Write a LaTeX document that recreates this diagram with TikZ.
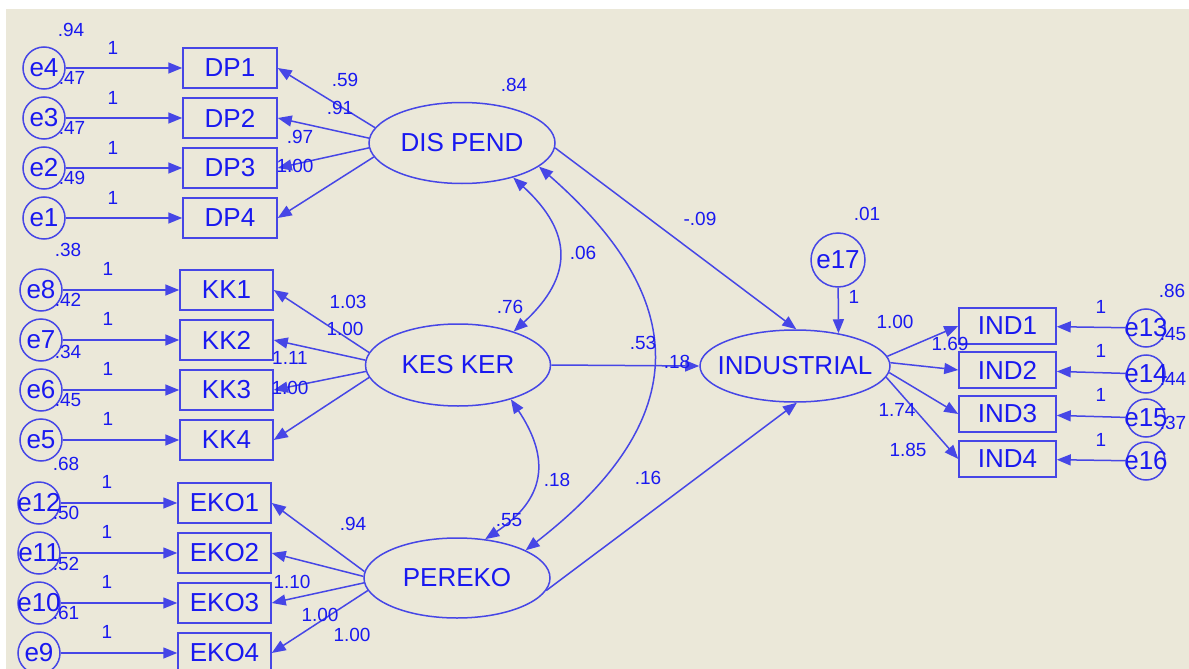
\documentclass[tikz,border=0pt]{standalone}
\usepackage{fontspec}
\setmainfont{Liberation Sans}
\usetikzlibrary{arrows.meta,shapes.geometric}
\definecolor{bg}{RGB}{235,232,217}
\definecolor{ln}{RGB}{70,70,230}
\definecolor{tx}{RGB}{25,25,240}
\begin{document}
\begin{tikzpicture}[x=1pt,y=-1pt,
  every node/.style={text=tx},
  big/.style={font=\fontsize{26}{30}\selectfont},
  obs/.style={big,draw=ln,line width=1.5pt,rectangle,minimum width=93pt,minimum height=40pt,inner sep=0pt},
  lat/.style={big,draw=ln,line width=1.5pt,ellipse,inner sep=0pt},
  err/.style={big,draw=ln,line width=1.5pt,circle,minimum size=42pt,inner sep=0pt},
  errs/.style={err,minimum size=38pt},
  lab/.style={inner sep=0pt,font=\fontsize{19}{22}\selectfont},
  arr/.style={draw=ln,line width=1.5pt,-{Triangle[length=14pt,width=11pt]}},
  cov/.style={draw=ln,line width=1.5pt,{Triangle[length=14pt,width=11pt]}-{Triangle[length=14pt,width=11pt]}}
]
\useasboundingbox (0,0) rectangle (1189,669);
\fill[white] (0,0) rectangle (1189,669);
\fill[bg] (6,9) rectangle (1189,669);

% latent variables
\node[lat,minimum width=186pt,minimum height=81pt] (dp) at (462,143) {\makebox[0pt]{DIS PEND}};
\node[lat,minimum width=185pt,minimum height=82pt] (kk) at (458,365) {\makebox[0pt]{KES KER}};
\node[lat,minimum width=186pt,minimum height=80pt] (pe) at (457,578) {\makebox[0pt]{PEREKO}};
\node[lat,minimum width=190pt,minimum height=72pt] (ind) at (795,366) {\makebox[0pt]{INDUSTRIAL}};

% observed
\node[obs,minimum width=94pt] (DP1) at (230,68) {DP1};
\node[obs,minimum width=94pt] (DP2) at (230,118) {DP2};
\node[obs,minimum width=94pt] (DP3) at (230,168) {DP3};
\node[obs,minimum width=94pt] (DP4) at (230,218) {DP4};
\node[obs] (KK1) at (226.5,290) {KK1};
\node[obs] (KK2) at (226.5,340) {KK2};
\node[obs] (KK3) at (226.5,390) {KK3};
\node[obs] (KK4) at (226.5,440) {KK4};
\node[obs] (EKO1) at (224.5,503) {EKO1};
\node[obs] (EKO2) at (224.5,553) {EKO2};
\node[obs] (EKO3) at (224.5,603) {EKO3};
\node[obs] (EKO4) at (224.5,653) {EKO4};
\node[obs,minimum width=97pt,minimum height=36pt] (IND1) at (1007.5,326) {IND1};
\node[obs,minimum width=97pt,minimum height=36pt] (IND2) at (1007.5,370) {IND2};
\node[obs,minimum width=97pt,minimum height=36pt] (IND3) at (1007.5,414) {IND3};
\node[obs,minimum width=97pt,minimum height=36pt] (IND4) at (1007.5,459) {IND4};

% errors
\node[err] (e4) at (44,68) {\makebox[0pt]{e4}};
\node[err] (e3) at (44,118) {\makebox[0pt]{e3}};
\node[err] (e2) at (44,168) {\makebox[0pt]{e2}};
\node[err] (e1) at (44,218) {\makebox[0pt]{e1}};
\node[err] (e8) at (41,290) {\makebox[0pt]{e8}};
\node[err] (e7) at (41,340) {\makebox[0pt]{e7}};
\node[err] (e6) at (41,390) {\makebox[0pt]{e6}};
\node[err] (e5) at (41,440) {\makebox[0pt]{e5}};
\node[err] (e12) at (39,503) {\makebox[0pt]{e12}};
\node[err] (e11) at (39,553) {\makebox[0pt]{e11}};
\node[err] (e10) at (39,603) {\makebox[0pt]{e10}};
\node[err] (e9) at (39,653) {\makebox[0pt]{e9}};
\node[errs] (e13) at (1146,328) {\makebox[0pt]{e13}};
\node[errs] (e14) at (1146,374) {\makebox[0pt]{e14}};
\node[errs] (e15) at (1146,418) {\makebox[0pt]{e15}};
\node[errs] (e16) at (1146,461) {\makebox[0pt]{e16}};
\node[err,minimum size=54pt] (e17) at (838,260) {\makebox[0pt]{e17}};

% error arrows
\foreach \e/\o in {e4/DP1,e3/DP2,e2/DP3,e1/DP4,e8/KK1,e7/KK2,e6/KK3,e5/KK4,e12/EKO1,e11/EKO2,e10/EKO3,e9/EKO4,e13/IND1,e14/IND2,e15/IND3,e16/IND4}
  \draw[arr] (\e) -- (\o);
\draw[arr] (e17) -- (ind.37);

% loadings
\draw[arr] (dp.170) -- (DP1.east);
\draw[arr] (dp.177) -- (DP2.east);
\draw[arr] (dp.183) -- (DP3.east);
\draw[arr] (dp.189) -- (DP4.east);
\draw[arr] (kk.172) -- (KK1.east);
\draw[arr] (kk.177) -- (KK2.east);
\draw[arr] (kk.184) -- (KK3.east);
\draw[arr] (kk.188) -- (KK4.east);
\draw[arr] (pe.176) -- (EKO1.east);
\draw[arr] (pe.179) -- (EKO2.east);
\draw[arr] (pe.183) -- (EKO3.east);
\draw[arr] (pe.188) -- (EKO4.east);
\draw[arr] (ind.6) -- (IND1.west);
\draw[arr] (ind.2) -- (IND2.west);
\draw[arr] (ind.-4) -- (IND3.west);
\draw[arr] (ind.-7) -- (IND4.west);

% structural paths
\draw[arr] (dp.-3) -- (ind.88);
\draw[arr] (kk.east) -- (ind.west);
\draw[arr] (pe.-8) -- (ind.-87);

% covariances
\draw[cov] (dp.-34) .. controls +(60,55) and +(60,-55) .. (kk.31);
\draw[cov] (kk.-33) .. controls +(40,60) and +(60,-40) .. (pe.54);
\draw[cov] (dp.-17) .. controls +(160,140) and +(161,-125) .. (pe.22);

% labels
\foreach \x/\y/\t in {71/30/.94,72/78/.47,72/128/.47,72/178/.49,68/250/.38,68/300/.42,68/352/.34,68/400/.45,66/464/.68,66/513/.50,66/564/.52,66/613/.61,
  113/48/1,113/98/1,113/148/1,113/198/1,108/269/1,108/319/1,108/369/1,108/419/1,107/482/1,107/532/1,107/582/1,107/632/1,
  345/80/.59,340/108/.91,300/137/.97,295/166/1.00,348/302/1.03,345/329/1.00,290/358/1.11,290/388/1.00,
  353/524/.94,292/582/1.10,320/615/1.00,352/635/1.00,
  514/85/.84,510/307/.76,583/253/.06,643/343/.53,677/362/.18,509/520/.55,557/480/.18,648/478/.16,700/219/-.09,
  867/214/.01,854/297/1,895/322/1.00,950/344/1.69,897/410/1.74,908/450/1.85,
  1172/291/.86,1173/334/.45,1173/379/.44,1173/423/.37,1101/307/1,1101/351/1,1101/395/1,1101/440/1}
  \node[lab] at (\x,\y) {\t};
\end{tikzpicture}
\end{document}
